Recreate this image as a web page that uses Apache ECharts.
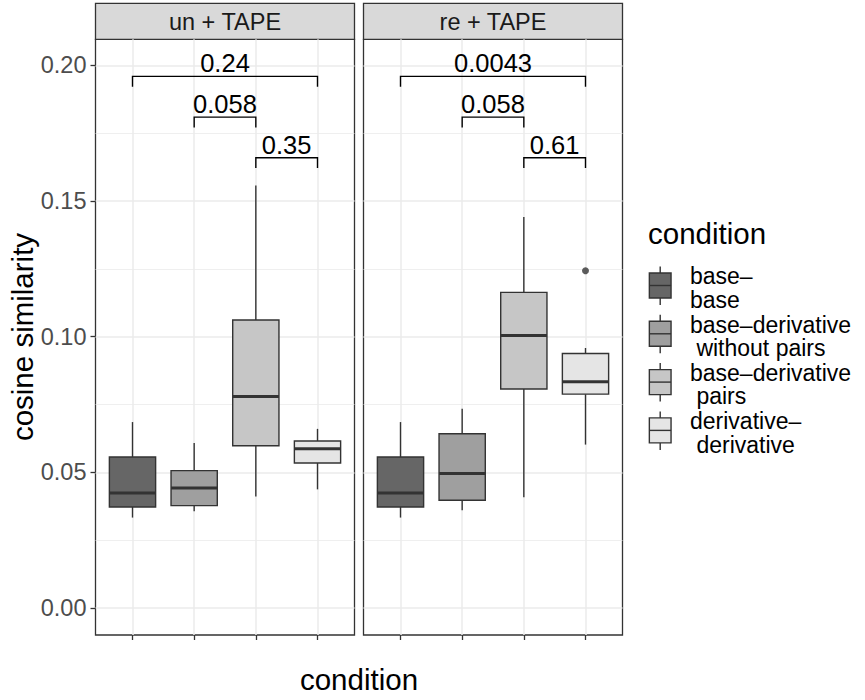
<!DOCTYPE html>
<html><head><meta charset="utf-8">
<script src="https://cdn.jsdelivr.net/npm/echarts@6/dist/echarts.min.js"></script>
<style>html,body{margin:0;padding:0;background:#fff}#c{width:865px;height:700px}</style>
</head><body><div id="c"></div>
<script>
// ---------------- data ----------------
const panels = ['un + TAPE', 're + TAPE'];
const conditions = ['base–\nbase', 'base–derivative\n without pairs', 'base–derivative\n pairs', 'derivative–\n derivative'];
const yTicks = [0, 0.05, 0.10, 0.15, 0.20];
const yMinorTicks = [0.025, 0.075, 0.125, 0.175];
// [lower whisker, Q1, median, Q3, upper whisker] per condition
const unStats = [
  [0.0333, 0.0372, 0.0424, 0.0556, 0.0685],
  [0.0356, 0.0377, 0.0442, 0.0506, 0.0608],
  [0.0411, 0.0598, 0.0779, 0.1061, 0.1557],
  [0.0437, 0.0534, 0.0587, 0.0615, 0.0660]
];
const reStats = [
  [0.0333, 0.0372, 0.0424, 0.0556, 0.0685],
  [0.0360, 0.0397, 0.0495, 0.0642, 0.0734],
  [0.0408, 0.0807, 0.1004, 0.1163, 0.1441],
  [0.0602, 0.0788, 0.0834, 0.0938, 0.0958]
];
// [condition position, value]
const unOutliers = [];
const reOutliers = [[4, 0.1243]];
// [from condition, to condition, bracket height, p-value]
const unBrackets = [[1, 4, 0.1959, '0.24'], [2, 3, 0.1809, '0.058'], [3, 4, 0.1659, '0.35']];
const reBrackets = [[1, 4, 0.1959, '0.0043'], [2, 3, 0.1809, '0.058'], [3, 4, 0.1659, '0.61']];

// ---------------- style ----------------
const FONT = '"Liberation Sans", Arial, Helvetica, sans-serif';
const fills = ['#666666', '#9F9F9F', '#C6C6C6', '#E5E5E5'];
const STROKE = '#333333';
const Y_MIN = -0.00998, Y_MAX = 0.20958;
const TIP = 0.0038;
const gridPos = [
  { left: 95.5, top: 39.3, width: 259, height: 595.7 },
  { left: 363.5, top: 39.3, width: 259, height: 595.7 }
];
const xPositions = conditions.map((_, i) => i + 1);

function renderBox(params, api) {
  const x = api.value(0);
  const pLo = api.coord([x, api.value(1)]);
  const pQ1 = api.coord([x, api.value(2)]);
  const pMd = api.coord([x, api.value(3)]);
  const pQ3 = api.coord([x, api.value(4)]);
  const pHi = api.coord([x, api.value(5)]);
  const w = api.size([0.75, 0])[0];
  const cx = pMd[0];
  return { type: 'group', children: [
    { type: 'line', shape: { x1: cx, y1: pHi[1], x2: cx, y2: pQ3[1] }, style: { stroke: STROKE, lineWidth: 1.4 } },
    { type: 'line', shape: { x1: cx, y1: pQ1[1], x2: cx, y2: pLo[1] }, style: { stroke: STROKE, lineWidth: 1.4 } },
    { type: 'rect', shape: { x: cx - w / 2, y: pQ3[1], width: w, height: pQ1[1] - pQ3[1] },
      style: { fill: fills[params.dataIndex], stroke: STROKE, lineWidth: 1.4 } },
    { type: 'line', shape: { x1: cx - w / 2, y1: pMd[1], x2: cx + w / 2, y2: pMd[1] }, style: { stroke: STROKE, lineWidth: 3 } }
  ]};
}

function bracketRenderer(list) {
  return function (params, api) {
    const b = list[params.dataIndex];
    const p1 = api.coord([api.value(0), api.value(2)]);
    const p2 = api.coord([api.value(1), api.value(2)]);
    const tip = api.size([0, TIP])[1];
    return { type: 'group', children: [
      { type: 'polyline', shape: { points: [[p1[0], p1[1] + tip], [p1[0], p1[1]], [p2[0], p2[1]], [p2[0], p2[1] + tip]] },
        style: { stroke: '#000', lineWidth: 1.4, fill: null } },
      { type: 'text', x: (p1[0] + p2[0]) / 2, y: p1[1] - 13.3,
        style: { text: b[3], fontSize: 25.5, fontFamily: FONT, fill: '#000', align: 'center', verticalAlign: 'middle' } }
    ]};
  };
}

const statsByPanel = [unStats, reStats];
const outliersByPanel = [unOutliers, reOutliers];
const bracketsByPanel = [unBrackets, reBrackets];

const grid = gridPos.map(p => Object.assign({ show: true, borderColor: STROKE, borderWidth: 1.3, backgroundColor: '#fff', containLabel: false }, p));

const xAxis = panels.map((_, g) => ({
  gridIndex: g, type: 'value', min: 0.4, max: 4.6,
  axisLine: { show: false, onZero: false },
  axisLabel: { show: false, customValues: xPositions },
  axisTick: { show: true, length: 5, lineStyle: { color: STROKE, width: 1.3 }, customValues: xPositions },
  splitLine: { show: true, lineStyle: { color: '#EBEBEB', width: 1.5 } }
}));

const yAxis = [];
panels.forEach((_, g) => {
  yAxis.push({
    gridIndex: g, type: 'value', min: Y_MIN, max: Y_MAX, position: 'left',
    axisLine: { show: false, onZero: false },
    axisTick: { show: g === 0, length: 5, lineStyle: { color: STROKE, width: 1.3 }, customValues: yTicks },
    axisLabel: { show: g === 0, customValues: yTicks, formatter: v => v.toFixed(2), color: '#4D4D4D',
      fontSize: 23.5, fontFamily: FONT, margin: 9 },
    splitLine: { show: true, lineStyle: { color: '#EBEBEB', width: 1.5 } }
  });
});
panels.forEach((_, g) => {
  yAxis.push({
    gridIndex: g, type: 'value', min: Y_MIN, max: Y_MAX, position: 'left',
    axisLine: { show: false, onZero: false },
    axisTick: { show: false, customValues: yMinorTicks },
    axisLabel: { show: false, customValues: yMinorTicks },
    splitLine: { show: true, lineStyle: { color: '#EBEBEB', width: 0.8 } }
  });
});

const series = [];
panels.forEach((_, g) => {
  series.push({
    type: 'custom', xAxisIndex: g, yAxisIndex: g, renderItem: renderBox, z: 3,
    encode: { x: 0, y: [1, 2, 3, 4, 5] },
    data: statsByPanel[g].map((s, i) => [xPositions[i]].concat(s))
  });
  series.push({
    type: 'scatter', xAxisIndex: g, yAxisIndex: g, symbolSize: 7, z: 4,
    itemStyle: { color: STROKE }, data: outliersByPanel[g]
  });
  series.push({
    type: 'custom', xAxisIndex: g, yAxisIndex: g, renderItem: bracketRenderer(bracketsByPanel[g]), z: 5,
    encode: { x: [0, 1], y: 2 },
    data: bracketsByPanel[g].map(b => [b[0], b[1], b[2]])
  });
});

// strips, titles, legend
const graphic = [];
panels.forEach((name, g) => {
  const p = gridPos[g];
  graphic.push({ type: 'rect', shape: { x: p.left, y: 3.3, width: p.width, height: p.top - 3.3 },
    style: { fill: '#D9D9D9', stroke: STROKE, lineWidth: 1.3 } });
  graphic.push({ type: 'text', x: p.left + p.width / 2, y: 21.5,
    style: { text: name, fontSize: 23.5, fontFamily: FONT, fill: '#1A1A1A', align: 'center', verticalAlign: 'middle' } });
});
graphic.push({ type: 'text', x: 359, y: 679,
  style: { text: 'condition', fontSize: 29.5, fontFamily: FONT, fill: '#000', align: 'center', verticalAlign: 'middle' } });
graphic.push({ type: 'text', x: 22, y: 337, rotation: Math.PI / 2,
  style: { text: 'cosine similarity', fontSize: 29.5, fontFamily: FONT, fill: '#000', align: 'center', verticalAlign: 'middle' } });
graphic.push({ type: 'text', x: 648, y: 233,
  style: { text: 'condition', fontSize: 29.5, fontFamily: FONT, fill: '#000', align: 'left', verticalAlign: 'middle' } });
conditions.forEach((label, i) => {
  const cy = 285.5 + i * 48.3;
  const cx = 660.2, w = 21.7, h = 25;
  graphic.push({ type: 'group', children: [
    { type: 'line', shape: { x1: cx, y1: cy - h / 2 - 6.5, x2: cx, y2: cy - h / 2 }, style: { stroke: STROKE, lineWidth: 1.4 } },
    { type: 'line', shape: { x1: cx, y1: cy + h / 2, x2: cx, y2: cy + h / 2 + 7 }, style: { stroke: STROKE, lineWidth: 1.4 } },
    { type: 'rect', shape: { x: cx - w / 2, y: cy - h / 2, width: w, height: h }, style: { fill: fills[i], stroke: STROKE, lineWidth: 1.4 } },
    { type: 'line', shape: { x1: cx - w / 2, y1: cy, x2: cx + w / 2, y2: cy }, style: { stroke: STROKE, lineWidth: 1.4 } }
  ]});
  graphic.push({ type: 'text', x: 690, y: cy + 2.5,
    style: { text: label, fontSize: 23, lineHeight: 23.5, fontFamily: FONT, fill: '#000', align: 'left', verticalAlign: 'middle' } });
});

const chart = echarts.init(document.getElementById('c'), null, { renderer: 'svg' });
chart.setOption({
  animation: false,
  backgroundColor: '#fff',
  grid, xAxis, yAxis, series, graphic
});
</script>
</body></html>
